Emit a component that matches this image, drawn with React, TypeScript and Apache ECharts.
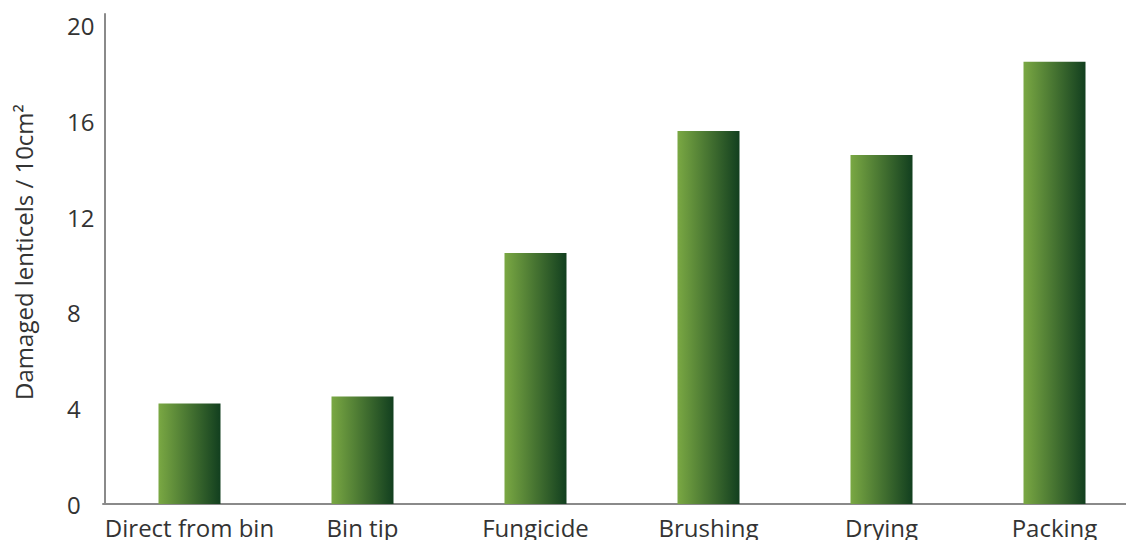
import React, { useEffect, useRef } from "react";
import * as echarts from "echarts";

const categories = ["Direct from bin", "Bin tip", "Fungicide", "Brushing", "Drying", "Packing"];
const damagedLenticels = [4.2, 4.5, 10.5, 15.6, 14.6, 18.5];
const yTicks = [0, 4, 8, 12, 16, 20];

export default function App() {
  const ref = useRef<HTMLDivElement>(null);

  useEffect(() => {
    document.body.style.margin = "0";
    if (!ref.current) return;
    const chart = echarts.init(ref.current, undefined, { renderer: "svg" });
    const font = "Open Sans";
    const barFill = new echarts.graphic.LinearGradient(0, 0, 1, 0, [
      { offset: 0, color: "#7aa843" },
      { offset: 1, color: "#123f1f" },
    ]);
    chart.setOption({
      animation: false,
      grid: {
        left: 103,
        right: -15,
        top: 14,
        bottom: 36,
        containLabel: false,
        outerBoundsMode: "none",
      },
      xAxis: {
        type: "category",
        data: categories,
        axisTick: { show: false },
        axisLine: { lineStyle: { color: "#8a8a8a", width: 2 } },
        axisLabel: { color: "#333333", fontSize: 24, fontFamily: font, margin: 11, interval: 0 },
      },
      yAxis: {
        type: "value",
        min: 0,
        max: 20.5,
        interval: 4,
        offset: -2,
        splitLine: { show: false },
        axisTick: { show: false },
        axisLine: { show: true, lineStyle: { color: "#8a8a8a", width: 2 } },
        axisLabel: {
          color: "#333333",
          fontSize: 24,
          fontFamily: font,
          align: "left",
          margin: 38,
          formatter: (v: number) => (yTicks.includes(v) ? String(v) : ""),
        },
        name: "Damaged lenticels / 10cm²",
        nameLocation: "middle",
        nameGap: 70,
        nameRotate: 90,
        nameTextStyle: { color: "#333333", fontSize: 24, fontFamily: font, padding: [0, 0, 0, 14] },
      },
      series: [
        {
          type: "bar",
          data: damagedLenticels,
          barWidth: 62,
          itemStyle: { color: barFill },
        },
      ],
    });
    return () => chart.dispose();
  }, []);

  return <div ref={ref} style={{ width: 1126, height: 540 }} />;
}
